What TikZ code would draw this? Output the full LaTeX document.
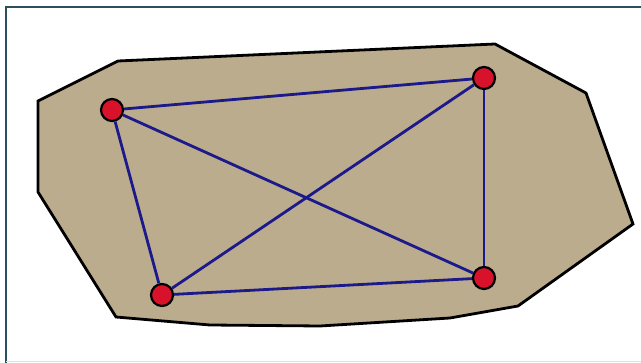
\documentclass[tikz,border=0pt]{standalone}
\begin{document}
\begin{tikzpicture}[x=1pt,y=-1pt,
  vert/.style={circle,draw=black,line width=2.2pt,fill=nodered,minimum size=22pt,inner sep=0pt},
  edge/.style={draw=edgeblue,line width=2.8pt},
  region/.style={draw=black,line width=2.8pt,fill=tan,line join=miter}]
\definecolor{tan}{RGB}{188,172,142}
\definecolor{nodered}{RGB}{215,18,42}
\definecolor{edgeblue}{RGB}{28,26,138}
\definecolor{frame}{RGB}{40,80,95}
\useasboundingbox (0,0) rectangle (641,363);
\draw[frame,line width=1.1pt] (6,363) -- (6,7) -- (641,7);
\draw[black!12,line width=0.6pt] (6,361) -- (641,361);
\draw[region] (38,101) -- (118,61) -- (495,44) -- (586,93) -- (633,224) -- (518,306)
  -- (450,318) -- (320,326) -- (210,325) -- (116,317) -- (38,192) -- cycle;
\node[vert] (a) at (112,110) {};
\node[vert] (b) at (484,78) {};
\node[vert] (c) at (484,278) {};
\node[vert] (d) at (162,295) {};
\draw[edge] (a) -- (b);
\draw[edge] (a) -- (c);
\draw[edge] (a) -- (d);
\draw[edge] (b) -- (c);
\draw[edge] (b) -- (d);
\draw[edge] (c) -- (d);
\end{tikzpicture}
\end{document}
